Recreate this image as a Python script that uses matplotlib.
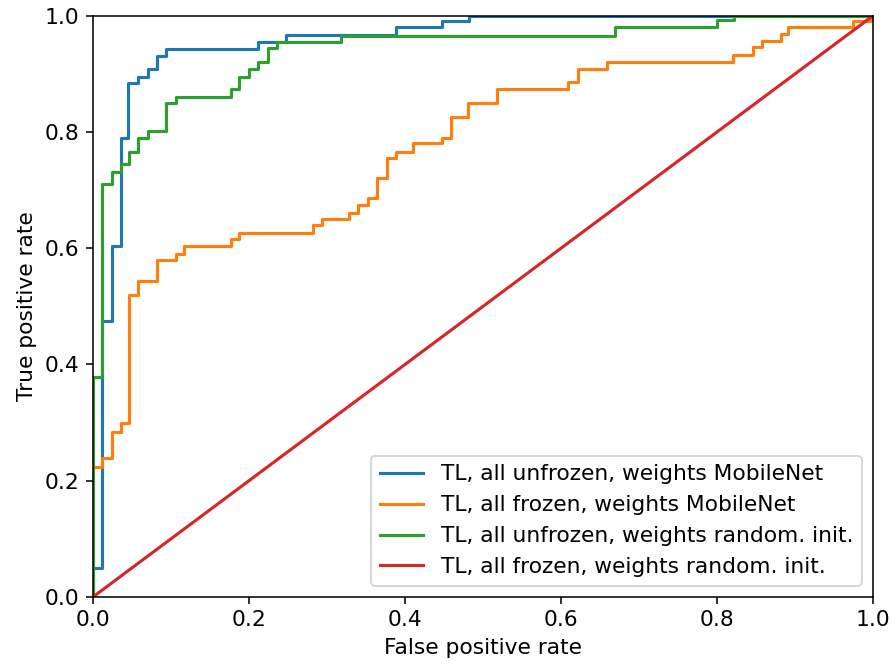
import numpy as np
import matplotlib.pyplot as plt

# ROC step breakpoints: false positive rate where each step happens, and the TPR reached
fpr_unfrozen_mobilenet = [0, 0.0115, 0.0236, 0.0355, 0.045, 0.0577, 0.0698, 0.0813,
                          0.0933, 0.2117, 0.247, 0.388, 0.447, 0.482]
tpr_unfrozen_mobilenet = [0.049, 0.474, 0.604, 0.790, 0.885, 0.8955, 0.908, 0.931,
                          0.944, 0.956, 0.967, 0.9805, 0.992, 1.0]

fpr_frozen_mobilenet = [0, 0.0108, 0.0236, 0.0355, 0.0458, 0.057, 0.0813, 0.1057,
                        0.1164, 0.1767, 0.1873, 0.2815, 0.293, 0.328, 0.340, 0.352,
                        0.3636, 0.3764, 0.388, 0.4106, 0.447, 0.459, 0.481, 0.5176,
                        0.6095, 0.622, 0.6587, 0.821, 0.846, 0.8576, 0.8823, 0.8917,
                        0.975, 0.998]
tpr_frozen_mobilenet = [0.224, 0.238, 0.284, 0.2986, 0.5195, 0.544, 0.580, 0.591,
                        0.604, 0.6155, 0.626, 0.640, 0.650, 0.661, 0.6745, 0.686,
                        0.7205, 0.755, 0.766, 0.7808, 0.790, 0.8255, 0.8507, 0.874,
                        0.886, 0.909, 0.921, 0.933, 0.946, 0.957, 0.9685, 0.9805,
                        0.991, 1.0]

fpr_unfrozen_random = [0, 0.0115, 0.0236, 0.0355, 0.046, 0.0577, 0.0698, 0.0933,
                       0.1057, 0.1767, 0.187, 0.1998, 0.2117, 0.2237, 0.2353, 0.3174,
                       0.670, 0.800, 0.822]
tpr_unfrozen_random = [0.379, 0.710, 0.731, 0.7446, 0.766, 0.790, 0.8025, 0.8507,
                       0.860, 0.874, 0.8955, 0.909, 0.921, 0.9454, 0.9557, 0.966,
                       0.9805, 0.993, 1.0]

fpr_frozen_random = [0, 1]
tpr_frozen_random = [0, 1]

labels = [
    "TL, all unfrozen, weights MobileNet",
    "TL, all frozen, weights MobileNet",
    "TL, all unfrozen, weights random. init.",
    "TL, all frozen, weights random. init.",
]

plt.rcParams["font.size"] = 11.2
plt.rcParams["lines.linewidth"] = 1.6


def roc_path(fpr, tpr):
    # walk up then across, the way an ROC curve moves between thresholds
    xs, ys = [0.0], [0.0]
    for x, y in zip(fpr, tpr):
        xs += [x, x]
        ys += [ys[-1], y]
    xs.append(1.0)
    ys.append(ys[-1])
    return np.array(xs), np.array(ys)


fig = plt.figure(figsize=(893 / 140, 665 / 140), dpi=140)
ax = fig.add_axes([93.3 / 893, 68.3 / 665, 779.4 / 893, 580.7 / 665])

for fpr, tpr, label in [
    (fpr_unfrozen_mobilenet, tpr_unfrozen_mobilenet, labels[0]),
    (fpr_frozen_mobilenet, tpr_frozen_mobilenet, labels[1]),
    (fpr_unfrozen_random, tpr_unfrozen_random, labels[2]),
]:
    ax.plot(*roc_path(fpr, tpr), label=label)
ax.plot(fpr_frozen_random, tpr_frozen_random, label=labels[3])

ax.set_xlim(0, 1)
ax.set_ylim(0, 1)
ax.set_xlabel("False positive rate")
ax.set_ylabel("True positive rate")
ax.legend(loc="lower right")

fig.savefig("out.png", dpi=140)
